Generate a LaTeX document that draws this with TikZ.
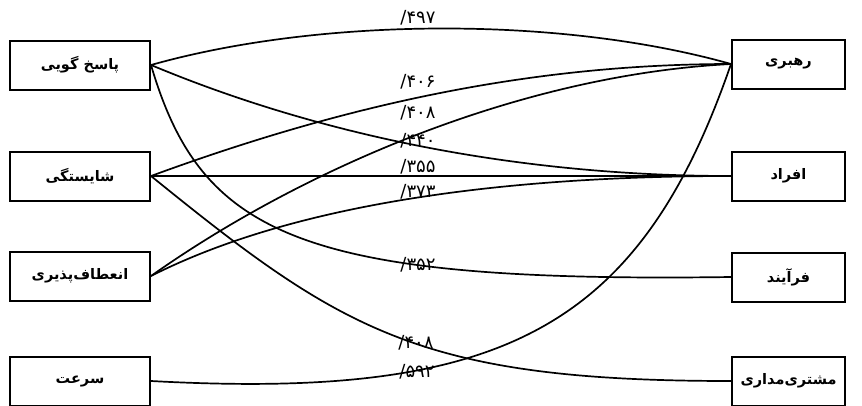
\documentclass[tikz,border=0pt]{standalone}
\usepackage{fontspec}
\usepackage{tikz}
\TeXXeTstate=1
\newfontfamily\arabicfont[Script=Arabic]{DejaVu Sans}
\newfontfamily\numfont{DejaVu Sans}
\newcommand{\fa}[1]{\beginR #1\endR}

\begin{document}
\begin{tikzpicture}[
    x=1pt,y=-1pt,
    box/.style={draw=black,line width=2pt,fill=white,minimum width=140pt,
      minimum height=49pt,inner sep=2pt,font=\arabicfont\bfseries\fontsize{14.5}{16}\selectfont},
    rbox/.style={box,minimum width=113pt},
    weight/.style={font=\numfont\fontsize{18}{20}\selectfont,inner sep=1pt},
    link/.style={line width=1.7pt,draw=black}
]
\useasboundingbox (0,0) rectangle (862,405);
\node[box] (pasokh) at (80,65) {\fa{پاسخ گویی}};
\node[box] (shayestegi) at (80,176) {\fa{شایستگی}};
\node[box] (enetaf) at (80,276) {\fa{انعطاف‌پذیری}};
\node[box] (sorat) at (80,381) {\fa{سرعت}};
\node[rbox] (rahbari) at (788.5,64) {\fa{رهبری}};
\node[rbox] (afrad) at (788.5,176) {\fa{افراد}};
\node[rbox] (farayand) at (788.5,277) {\fa{فرآیند}};
\node[rbox] (moshtari) at (788.5,381) {\fa{مشتری‌مداری}};
\draw[link] (pasokh.east) .. controls +(170,-48) and +(-170,-48) .. (rahbari.west);
\draw[link] (shayestegi.east) .. controls +(180,-66) and +(-212,0) .. (rahbari.west);
\draw[link] (enetaf.east) .. controls +(150,-106) and +(-212,11) .. (rahbari.west);
\draw[link] (pasokh.east) .. controls +(170,71) and +(-212,0) .. (afrad.west);
\draw[link] (shayestegi.east) -- (afrad.west);
\draw[link] (enetaf.east) .. controls +(150,-76) and +(-212,0) .. (afrad.west);
\draw[link] (pasokh.east) .. controls +(50,170) and +(-432,6) .. (farayand.west);
\draw[link] (shayestegi.east) .. controls +(190,154) and +(-312,0) .. (moshtari.west);
\draw[link] (sorat.east) .. controls +(350,19) and +(-92,266) .. (rahbari.west);
\node[weight] (w1) at (418,18) {/۴۹۷};
\node[weight] (w2) at (418,82) {/۴۰۶};
\node[weight] (w3) at (418,113) {/۴۰۸};
\node[weight] (w4) at (418,141) {/۴۴۰};
\node[weight] (w5) at (418,167) {/۳۵۵};
\node[weight] (w6) at (418,192) {/۳۷۳};
\node[weight] (w7) at (418,265) {/۳۵۲};
\node[weight] (w8) at (416,343) {/۴۰۸};
\node[weight] (w9) at (417,372) {/۵۹۲};
\end{tikzpicture}
\end{document}
